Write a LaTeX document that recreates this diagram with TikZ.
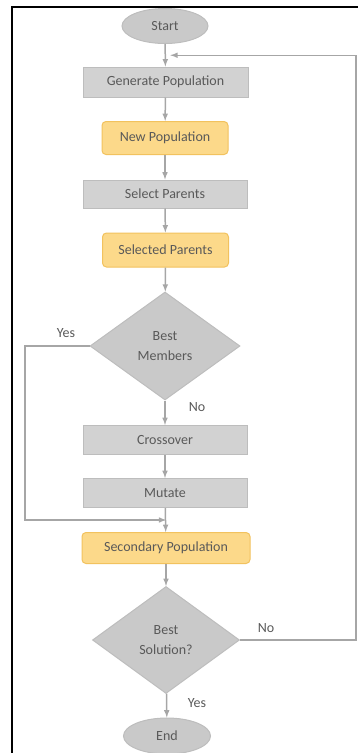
\documentclass[tikz,border=0pt]{standalone}
\usepackage{fontspec}
\setmainfont{Carlito}
\usetikzlibrary{shapes.geometric,calc}
\definecolor{boxgray}{HTML}{D2D2D2}
\definecolor{boxline}{HTML}{BDBDBD}
\definecolor{dgray}{HTML}{C9C9C9}
\definecolor{popfill}{HTML}{FCD98A}
\definecolor{popline}{HTML}{F2C25E}
\definecolor{txt}{HTML}{595959}
\definecolor{arrowgray}{HTML}{A6A6A6}
\tikzset{
  >=latex,
  every node/.style={text=txt,font=\fontsize{14}{17}\selectfont},
  procbox/.style={rectangle,draw=boxline,fill=boxgray,line width=1pt,minimum width=164pt,minimum height=29pt},
  popbox/.style={rectangle,rounded corners=4pt,draw=popline,fill=popfill,line width=1pt,minimum width=126pt,minimum height=33pt},
  termbox/.style={ellipse,draw=boxline,fill=dgray,line width=1pt,minimum width=86pt,minimum height=35pt},
  decbox/.style={diamond,draw=boxline,fill=dgray,line width=1pt,inner sep=0pt,align=center,font=\fontsize{14}{20}\selectfont},
  flow/.style={->,draw=arrowgray,line width=1.5pt},
  answer/.style={font=\fontsize{14}{17}\selectfont}
}
\begin{document}
\begin{tikzpicture}[x=1pt,y=-1pt]
            \useasboundingbox (0,0) rectangle (358,753);
            % Frame
            \draw[line width=2pt] (12,753) -- (12,7) -- (358,7);

            % Steps
            \node[termbox] (start) at (165,26) {Start};
            \node[procbox,minimum width=165pt,minimum height=30pt] (gen) at (165.5,82) {Generate Population};
            \node[popbox] (newpop) at (165,138) {New Population};
            \node[procbox,minimum height=28pt] (selpar) at (165,194) {Select Parents};
            \node[popbox,minimum height=34pt] (selected) at (165.5,250) {Selected Parents};
            \node[decbox,minimum width=150pt,minimum height=108pt] (best) at (165,346) {Best\\Members};
            \node[procbox] (cross) at (165,440) {Crossover};
            \node[procbox] (mutate) at (165,493) {Mutate};
            \node[popbox,minimum width=168pt,minimum height=31pt] (secpop) at (166,548) {Secondary Population};
            \node[decbox,minimum width=147pt,minimum height=107pt] (sol) at (166,640) {Best\\Solution?};
            \node[termbox,minimum width=87pt,minimum height=36pt] (end) at (167,736) {End};

            % Loop joints
            \coordinate (loopin) at ($(start.south)!0.5!(gen.north)$);
            \coordinate (merge) at ($(mutate.south)!0.5!(secpop.north)$);

            % Main line
            \draw[flow] (start) -- (gen);
            \draw[flow] (gen) -- (newpop);
            \draw[flow] (newpop) -- (selpar);
            \draw[flow] (selpar) -- (selected);
            \draw[flow] (selected) -- (best);
            \draw[flow] (best) -- (cross);
            \draw[flow] (cross) -- (mutate);
            \draw[flow] (mutate) -- (secpop);
            \draw[flow] (secpop) -- (sol);
            \draw[flow] (sol) -- (end);

            % Side loops
            \draw[flow] (best.west) -- (25,346) |- ([xshift=0.75pt]merge);
            \draw[flow] (sol.east) -- (356,640) |- ([xshift=5pt]loopin);

            % Answers
            \node[answer] (yes1) at (66,333) {Yes};
            \node[answer] (no1) at (197,407) {No};
            \node[answer] (no2) at (266,628) {No};
            \node[answer] (yes2) at (197,703) {Yes};
          \end{tikzpicture}
\end{document}
